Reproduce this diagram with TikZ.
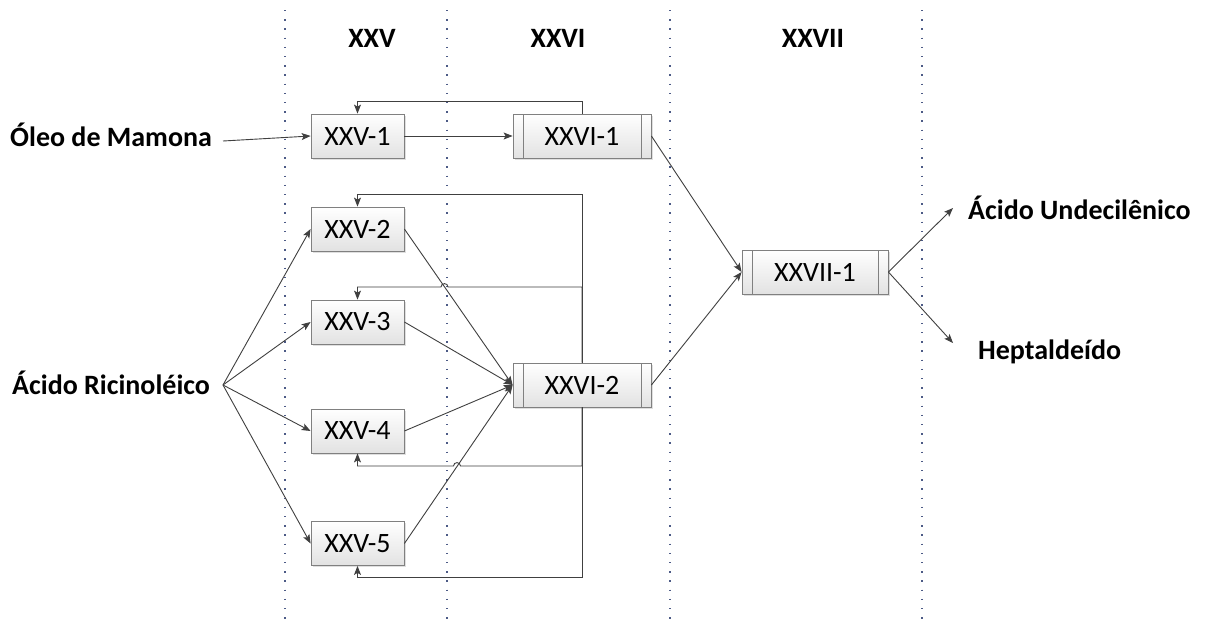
\documentclass[tikz,border=0pt]{standalone}
\usepackage{fontspec}
\setmainfont{Carlito}
\usetikzlibrary{arrows.meta,shadows}
\definecolor{linegray}{HTML}{404040}
\definecolor{boxedge}{HTML}{808080}
\definecolor{boxfill}{HTML}{E2E2E2}
\definecolor{guide}{HTML}{4C5A86}

\begin{document}
\begin{tikzpicture}[x=1pt,y=-1pt,
  unit/.style={draw=boxedge, line width=0.8pt, top color=white, bottom color=boxfill,
    minimum width=93pt, minimum height=44pt, inner sep=0pt,
    font=\fontsize{28}{30}\selectfont,
    drop shadow={shadow xshift=1.6pt, shadow yshift=-1.6pt, opacity=0.25, fill=gray}},
  process/.style={unit, minimum width=#1,
    path picture={\draw[boxedge, line width=0.8pt]
      ([xshift=10pt]path picture bounding box.north west) -- ([xshift=10pt]path picture bounding box.south west)
      ([xshift=-10pt]path picture bounding box.north east) -- ([xshift=-10pt]path picture bounding box.south east);}},
  label/.style={font=\bfseries\fontsize{28}{30}\selectfont, inner sep=0pt},
  conn/.style={draw=linegray, line width=0.9pt, -{Stealth[length=9pt, width=7pt, inset=2pt]}},
  wire/.style={draw=linegray, line width=0.9pt},
  guideline/.style={draw=guide, line width=1.3pt, dash pattern=on 1.3pt off 7.9pt}
]
\useasboundingbox[fill=white] (0,0) rectangle (1207,622);

% stage separators
\foreach \gx in {285,447,670,922}
  \draw[guideline] (\gx,10) -- (\gx,622);

% stage headings
\node[label, anchor=base] (h25) at (372,47) {XXV};
\node[label, anchor=base] (h26) at (558,47) {XXVI};
\node[label, anchor=base] (h27) at (813,47) {XXVII};

% feeds and products
\node[label, anchor=base west] (oleo) at (10,146) {Óleo de Mamona};
\node[label, anchor=base west] (ric) at (12,394) {Ácido Ricinoléico};
\node[label, anchor=base west] (undec) at (968,219) {Ácido Undecilênico};
\node[label, anchor=base west] (hept) at (978,359) {Heptaldeído};
\coordinate (oleoout) at (223,141);
\coordinate (ricout) at (223,385);
\coordinate (undecin) at (953,208);
\coordinate (heptin) at (953,343);

% units
\node[unit] (u251) at (357.5,136) {XXV-1};
\node[unit] (u252) at (357.5,229) {XXV-2};
\node[unit] (u253) at (357.5,322) {XXV-3};
\node[unit] (u254) at (357.5,431) {XXV-4};
\node[unit] (u255) at (357.5,543.5) {XXV-5};
\node[process=138pt] (u261) at (582,136) {XXVI-1};
\node[process=138pt] (u262) at (582,385) {XXVI-2};
\node[process=146pt] (u271) at (815,272) {XXVII-1};

% forward flows
\draw[conn] (oleoout) -- (u251.west);
\draw[conn] (u251.east) -- (u261.west);
\foreach \u in {u252,u253,u254,u255} {
  \draw[conn] (ricout) -- (\u.west);
  \draw[conn] (\u.east) -- (u262.west);
}
\draw[conn] (u261.east) -- (u271.west);
\draw[conn] (u262.east) -- (u271.west);
\draw[conn] (u271.east) -- (undecin);
\draw[conn] (u271.east) -- (heptin);

% recycle loops
\draw[conn] (u261.north) -- (582,101.7) -| (u251.north);
\draw[conn] (u262.north) -- (582,194.7) -| (u252.north);
\draw[conn] (u262.north) -- (582,287) -- (448,287)
  .. controls (448,282.5) and (441,282.5) .. (441,287) -| (u253.north);
\draw[conn] (u262.south) -- (582,466) -- (460.5,466)
  .. controls (460.5,461.5) and (453.5,461.5) .. (453.5,466) -| (u254.south);
\draw[conn] (u262.south) -- (582,577) -| (u255.south);
\end{tikzpicture}
\end{document}
